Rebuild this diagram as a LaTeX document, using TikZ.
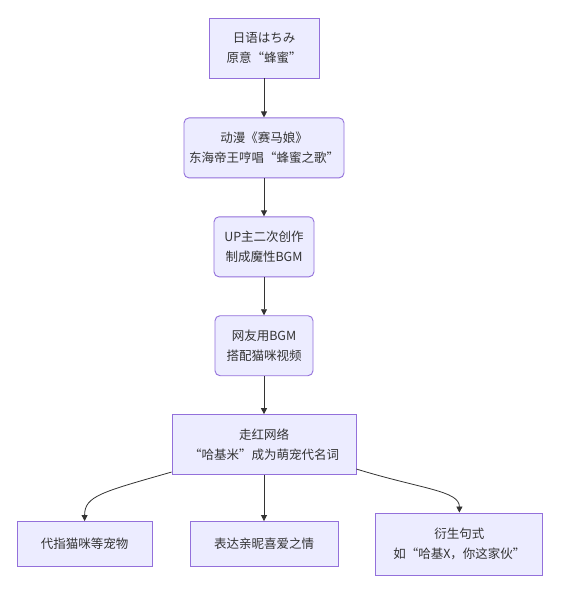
\documentclass[tikz,border=0pt]{standalone}
\usepackage{fontspec}
\newfontfamily\cjk{Noto Sans CJK SC}
\usepackage{tikz}
\usetikzlibrary{arrows.meta,positioning}
\definecolor{Ink}{HTML}{333333}
\definecolor{Edge}{HTML}{9370DB}
\definecolor{BoxFill}{HTML}{ECECFF}
\definecolor{Line}{HTML}{333333}

\begin{document}
\begin{tikzpicture}[x=1pt,y=-1pt,
  flow/.style={draw=Edge,fill=BoxFill,line width=0.9pt,minimum height=60pt,inner sep=2pt,align=center,font=\cjk\fontsize{12.5}{20}\selectfont,text=Ink},
  soft/.style={flow,rounded corners=5pt},
  arrow/.style={-{Triangle[length=6pt,width=6pt]},line width=0.8pt,color=Line}
]
\useasboundingbox[fill=white] (0,0) rectangle (562,596);
\node[flow,minimum width=110pt] (a) at (264,48) {日语はちみ\\原意“蜂蜜”};
\node[soft,minimum width=160pt,below=39pt of a] (b) {动漫《赛马娘》\\东海帝王哼唱“蜂蜜之歌”};
\node[soft,minimum width=100pt,below=38pt of b] (c) {UP主二次创作\\制成魔性BGM};
\node[soft,minimum width=98pt,below=38pt of c] (d) {网友用BGM\\搭配猫咪视频};
\node[flow,minimum width=184pt,below=38pt of d] (e) {走红网络\\“哈基米”成为萌宠代名词};
\node[flow,minimum width=148pt,minimum height=45pt,below=46pt of e] (g) {表达亲昵喜爱之情};
\node[flow,minimum width=135pt,minimum height=45pt,left=37pt of g] (f) {代指猫咪等宠物};
\node[flow,minimum width=167pt,minimum height=62pt,right=37pt of g] (h) {衍生句式\\如“哈基X，你这家伙”};
\draw[arrow] (a)--(b);
\draw[arrow] (b)--(c);
\draw[arrow] (c)--(d);
\draw[arrow] (d)--(e);
\draw[arrow] (e)--(g);
\draw[arrow] ([yshift=3pt]e.south west) .. controls +(-70,20) and +(0,-25) .. (f.north);
\draw[arrow] ([yshift=6pt]e.south east) .. controls +(65,20) and +(0,-22) .. (h.north);
\end{tikzpicture}
\end{document}
